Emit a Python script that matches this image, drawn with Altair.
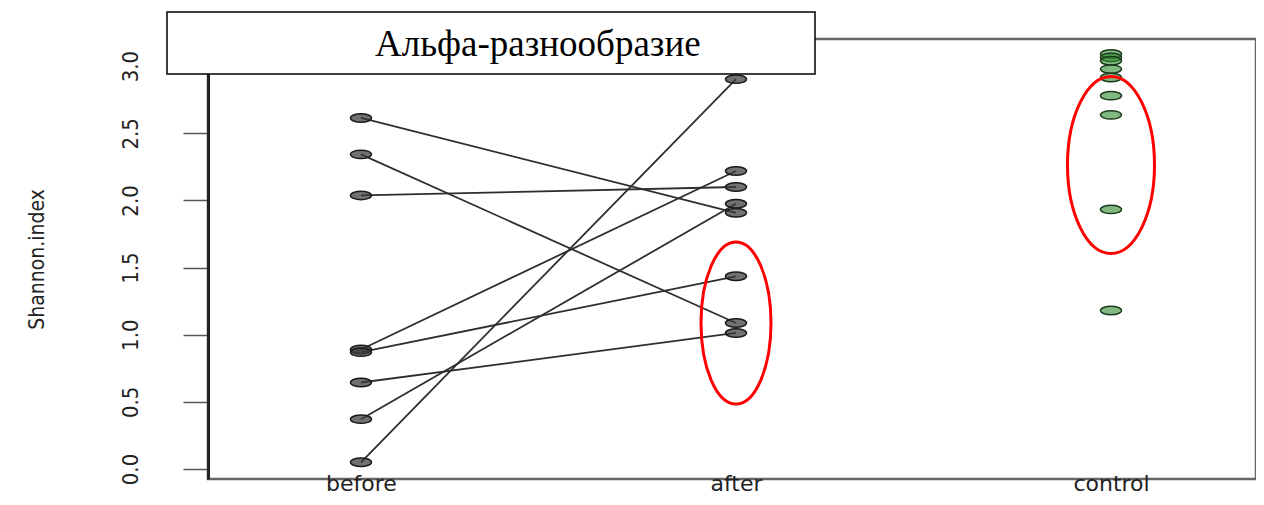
import altair as alt
import pandas as pd

# ---- data ----
groups = ["before", "after", "control"]
before_vals = [2.614, 2.343, 2.037, 0.89, 0.87, 0.644, 0.371, 0.05]
after_vals = [1.908, 1.087, 2.10, 2.219, 1.435, 1.013, 1.975, 2.903]
control_vals = [3.09, 3.065, 3.04, 2.978, 2.915, 2.78, 2.637, 1.933, 1.18]
y_ticks = [0.0, 0.5, 1.0, 1.5, 2.0, 2.5, 3.0]
title_text = "Альфа-разнообразие"
y_title = "Shannon.index"
ann_groups = ["after", "control"]
ann_centers = [1.087, 2.264]

# ---- tables ----
rows = []
for i, (b, a) in enumerate(zip(before_vals, after_vals)):
    rows.append({"subject": i, "group": "before", "value": b})
    rows.append({"subject": i, "group": "after", "value": a})
paired = pd.DataFrame(rows)
ctrl = pd.DataFrame({"group": "control", "value": control_vals})


def ellipse_path(rx, ry):
    k = 0.5523
    return (f"M{rx},0 C{rx},{k*ry} {k*rx},{ry} 0,{ry} "
            f"C{-k*rx},{ry} {-rx},{k*ry} {-rx},0 "
            f"C{-rx},{-k*ry} {-k*rx},{-ry} 0,{-ry} "
            f"C{k*rx},{-ry} {rx},{-k*ry} {rx},0 Z")


cond_font = "DejaVu Sans Condensed, Liberation Sans Narrow, Arial Narrow, sans-serif"

xscale = alt.Scale(domain=groups, type="point", padding=0.3973, align=0.5134)
yscale = alt.Scale(domain=[-0.0745, 3.202], nice=False, zero=False)

x_enc = alt.X("group:N", scale=xscale, sort=groups,
              axis=alt.Axis(title=None, domain=False, ticks=False, tickSize=0,
                            labelFontSize=22, labelFont="DejaVu Sans",
                            labelColor="#222", labelPadding=11,
                            labelBaseline="alphabetic", labelAngle=0))
y_enc = alt.Y("value:Q", scale=yscale,
              axis=alt.Axis(values=y_ticks, format=".1f", grid=False,
                            tickSize=25, tickColor="#555", tickWidth=1.5,
                            domainColor="#222", domainWidth=3,
                            labelFont=cond_font, labelFontSize=22,
                            labelColor="#222", labelAngle=270,
                            labelAlign="center", labelBaseline="alphabetic",
                            labelPadding=46, labelOverlap=False,
                            title=y_title, titleFont=cond_font,
                            titleFontSize=21, titleFontWeight="normal",
                            titleColor="#222", titleAngle=270,
                            titleAlign="center", titleBaseline="alphabetic",
                            titleX=-165, titleY=220))

lines = alt.Chart(paired).mark_line(color="#2e2e2e", strokeWidth=1.8).encode(
    x=x_enc, y=y_enc, detail="subject:N")

point_shape = ellipse_path(1, 0.4)

gray_pts = alt.Chart(paired).mark_point(
    shape=point_shape, size=441, filled=True, fill="#3a3a3a", fillOpacity=0.72,
    stroke="#1a1a1a", strokeWidth=1.5, opacity=1).encode(x="group:N", y="value:Q")

green_pts = alt.Chart(ctrl).mark_point(
    shape=point_shape, size=441, filled=True, fill="#2e8b2e", fillOpacity=0.6,
    stroke="#1c3a1c", strokeWidth=1.5, opacity=1).encode(x="group:N", y="value:Q")

ann_dims = [(70, 162), (87, 177)]
ann_layers = []
for g, c, (w, h) in zip(ann_groups, ann_centers, ann_dims):
    df = pd.DataFrame({"group": [g], "value": [c]})
    ann_layers.append(
        alt.Chart(df).mark_point(
            shape=ellipse_path(w / h, 1), size=h * h, filled=False,
            stroke="#ff0000", strokeWidth=3, opacity=1, fill="transparent"
        ).encode(x="group:N", y="value:Q"))

box_df = pd.DataFrame({"t": [title_text]})
box = alt.Chart(box_df).mark_rect(fill="white", stroke="black", strokeWidth=1.5).encode(
    x=alt.value(-41), x2=alt.value(607), y=alt.value(-27), y2=alt.value(35))
title = alt.Chart(box_df).mark_text(
    font="Liberation Serif", fontSize=37, align="left", baseline="alphabetic",
    color="black").encode(text="t:N", x=alt.value(167), y=alt.value(17))

chart = alt.layer(lines, gray_pts, green_pts, *ann_layers, box, title).properties(
    width=1048, height=440,
    padding={"left": 200, "top": 31, "right": 0, "bottom": 18},
    autosize=alt.AutoSizeParams(type="none"),
).configure(background="white",
            view=alt.ViewConfig(stroke="#666666", strokeWidth=2.5))

chart.save("out.html", embed_options={"renderer": "svg", "actions": False})
